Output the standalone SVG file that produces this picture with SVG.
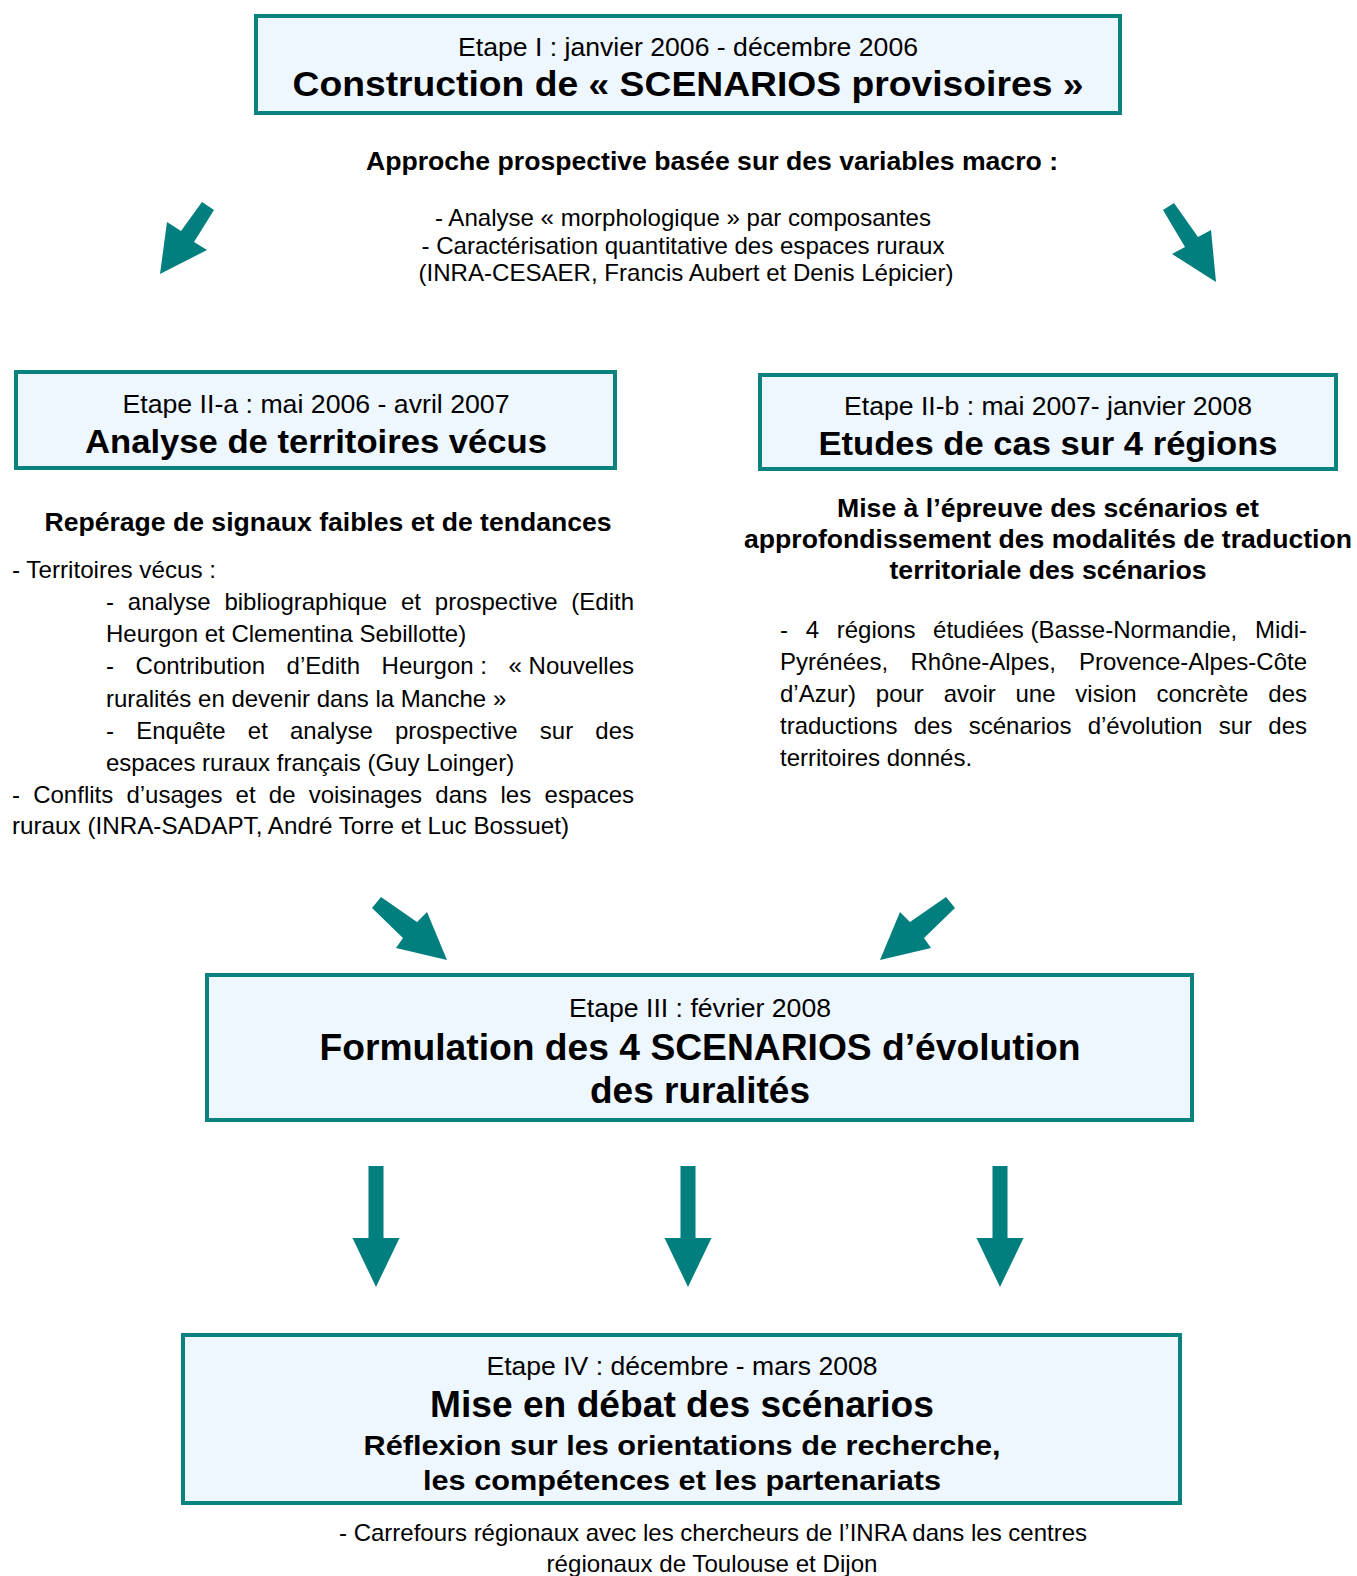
<svg xmlns="http://www.w3.org/2000/svg" width="1357" height="1576" viewBox="0 0 1357 1576">
<style>
text{font-family:"Liberation Sans",Arial,sans-serif;fill:#000}
.box{fill:#EEF6FE;stroke:#0A8280;stroke-width:4}
.arr{fill:#007F7E}
.sub{font-size:26px;text-anchor:middle}
.ttl{font-weight:bold;text-anchor:middle}
.b25{font-size:25px;font-weight:bold;text-anchor:middle}
.t{font-size:24px}
.c{text-anchor:middle}
</style>
<rect width="1357" height="1576" fill="#fff"/>

<g id="etape1">
<rect class="box" x="256" y="16" width="864" height="97"/>
<text class="sub" x="688" y="56" textLength="460" lengthAdjust="spacingAndGlyphs">Etape I : janvier 2006 - décembre 2006</text>
<text class="ttl" x="688" y="96" font-size="35" textLength="791" lengthAdjust="spacingAndGlyphs">Construction de « SCENARIOS provisoires »</text>
</g>

<g id="etape1-text">
<text class="b25" x="712" y="170" textLength="692" lengthAdjust="spacingAndGlyphs">Approche prospective basée sur des variables macro :</text>
<text class="t c" x="683" y="226" textLength="496" lengthAdjust="spacingAndGlyphs">- Analyse « morphologique » par composantes</text>
<text class="t c" x="683" y="254" textLength="523" lengthAdjust="spacingAndGlyphs">- Caractérisation quantitative des espaces ruraux</text>
<text class="t c" x="686" y="281" textLength="535" lengthAdjust="spacingAndGlyphs">(INRA-CESAER, Francis Aubert et Denis Lépicier)</text>
</g>

<g id="etape2a">
<rect class="box" x="16" y="372" width="599" height="96"/>
<text class="sub" x="316" y="413" textLength="387" lengthAdjust="spacingAndGlyphs">Etape II-a : mai 2006 - avril 2007</text>
<text class="ttl" x="316" y="453" font-size="33" textLength="462" lengthAdjust="spacingAndGlyphs">Analyse de territoires vécus</text>
</g>

<g id="etape2a-text">
<text class="b25" x="328" y="531" textLength="567" lengthAdjust="spacingAndGlyphs">Repérage de signaux faibles et de tendances</text>
<text class="t" x="12" y="578" textLength="204" lengthAdjust="spacingAndGlyphs">- Territoires vécus :</text>
<text class="t" y="610"><tspan x="106">-</tspan><tspan x="127.8">analyse</tspan><tspan x="224.4">bibliographique</tspan><tspan x="400.9">et</tspan><tspan x="434.8">prospective</tspan><tspan x="634" text-anchor="end">(Edith</tspan></text>
<text class="t" x="106" y="642">Heurgon et Clementina Sebillotte)</text>
<text class="t" y="674"><tspan x="106">-</tspan><tspan x="135.6">Contribution</tspan><tspan x="286.6">d’Edith</tspan><tspan x="381.6">Heurgon :</tspan><tspan x="634" text-anchor="end">« Nouvelles</tspan></text>
<text class="t" x="106" y="707">ruralités en devenir dans la Manche »</text>
<text class="t" y="739"><tspan x="106">-</tspan><tspan x="136.2">Enquête</tspan><tspan x="247.8">et</tspan><tspan x="290">analyse</tspan><tspan x="394.9">prospective</tspan><tspan x="539.8">sur</tspan><tspan x="634" text-anchor="end">des</tspan></text>
<text class="t" x="106" y="771">espaces ruraux français (Guy Loinger)</text>
<text class="t" y="803"><tspan x="12">-</tspan><tspan x="33.2">Conflits</tspan><tspan x="126.4">d’usages</tspan><tspan x="235.6">et</tspan><tspan x="268.8">de</tspan><tspan x="308.7">voisinages</tspan><tspan x="435.3">dans</tspan><tspan x="500.5">les</tspan><tspan x="634" text-anchor="end">espaces</tspan></text>
<text class="t" x="12" y="834" textLength="557" lengthAdjust="spacingAndGlyphs">ruraux (INRA-SADAPT, André Torre et Luc Bossuet)</text>
</g>

<g id="etape2b">
<rect class="box" x="760" y="375" width="576" height="94"/>
<text class="sub" x="1048" y="415" textLength="408" lengthAdjust="spacingAndGlyphs">Etape II-b : mai 2007- janvier 2008</text>
<text class="ttl" x="1048" y="455" font-size="33" textLength="459" lengthAdjust="spacingAndGlyphs">Etudes de cas sur 4 régions</text>
</g>

<g id="etape2b-text">
<text class="b25" x="1048" y="517" textLength="422" lengthAdjust="spacingAndGlyphs">Mise à l’épreuve des scénarios et</text>
<text class="b25" x="1048" y="548" textLength="608" lengthAdjust="spacingAndGlyphs">approfondissement des modalités de traduction</text>
<text class="b25" x="1048" y="579" textLength="317" lengthAdjust="spacingAndGlyphs">territoriale des scénarios</text>
<text class="t" y="638"><tspan x="780">-</tspan><tspan x="805.7">4</tspan><tspan x="836.7">régions</tspan><tspan x="933.1">étudiées (Basse-Normandie,</tspan><tspan x="1307" text-anchor="end">Midi-</tspan></text>
<text class="t" y="670"><tspan x="780">Pyrénées,</tspan><tspan x="910.5">Rhône-Alpes,</tspan><tspan x="1307" text-anchor="end">Provence-Alpes-Côte</tspan></text>
<text class="t" y="702"><tspan x="780">d’Azur)</tspan><tspan x="875.8">pour</tspan><tspan x="943.7">avoir</tspan><tspan x="1015.5">une</tspan><tspan x="1075.3">vision</tspan><tspan x="1156.4">concrète</tspan><tspan x="1307" text-anchor="end">des</tspan></text>
<text class="t" y="734"><tspan x="780">traductions</tspan><tspan x="913.7">des</tspan><tspan x="968.7">scénarios</tspan><tspan x="1087.7">d’évolution</tspan><tspan x="1218.7">sur</tspan><tspan x="1307" text-anchor="end">des</tspan></text>
<text class="t" x="780" y="766">territoires donnés.</text>
</g>

<g id="etape3">
<rect class="box" x="207" y="975" width="985" height="145"/>
<text class="sub" x="700" y="1017" textLength="262" lengthAdjust="spacingAndGlyphs">Etape III : février 2008</text>
<text class="ttl" x="700" y="1060" font-size="36" textLength="761" lengthAdjust="spacingAndGlyphs">Formulation des 4 SCENARIOS d’évolution</text>
<text class="ttl" x="700" y="1103" font-size="36" textLength="220" lengthAdjust="spacingAndGlyphs">des ruralités</text>
</g>

<g id="etape4">
<rect class="box" x="183" y="1335" width="997" height="168"/>
<text class="sub" x="682" y="1375" textLength="391" lengthAdjust="spacingAndGlyphs">Etape IV : décembre - mars 2008</text>
<text class="ttl" x="682" y="1417" font-size="36" textLength="504" lengthAdjust="spacingAndGlyphs">Mise en débat des scénarios</text>
<text class="ttl" x="682" y="1455" font-size="28" textLength="637" lengthAdjust="spacingAndGlyphs">Réflexion sur les orientations de recherche,</text>
<text class="ttl" x="682" y="1490" font-size="28" textLength="518" lengthAdjust="spacingAndGlyphs">les compétences et les partenariats</text>
</g>

<g id="etape4-text">
<text class="t c" x="713" y="1541" textLength="748" lengthAdjust="spacingAndGlyphs">- Carrefours régionaux avec les chercheurs de l’INRA dans les centres</text>
<text class="t c" x="712" y="1572" textLength="331" lengthAdjust="spacingAndGlyphs">régionaux de Toulouse et Dijon</text>
</g>

<g id="connectors">
<polygon class="arr" points="202,202 214,210 194,242 207,250 160,274 167,222 181,231"/>
<polygon class="arr" points="1163,210 1174,203 1198,237 1211,230 1216,282 1172,254 1185,247"/>
<polygon class="arr" points="381,897 417,922 427,912 447,960 396,948 403,938 372,908"/>
<polygon class="arr" points="946,897 910,922 900,912 880,960 931,948 924,938 955,908"/>
<polygon class="arr" points="368.5,1166 383.5,1166 383.5,1238 399.5,1238 376,1287 352.5,1238 368.5,1238"/>
<polygon class="arr" points="680.5,1166 695.5,1166 695.5,1238 711.5,1238 688,1287 664.5,1238 680.5,1238"/>
<polygon class="arr" points="992.5,1166 1007.5,1166 1007.5,1238 1023.5,1238 1000,1287 976.5,1238 992.5,1238"/>
</g>
</svg>
